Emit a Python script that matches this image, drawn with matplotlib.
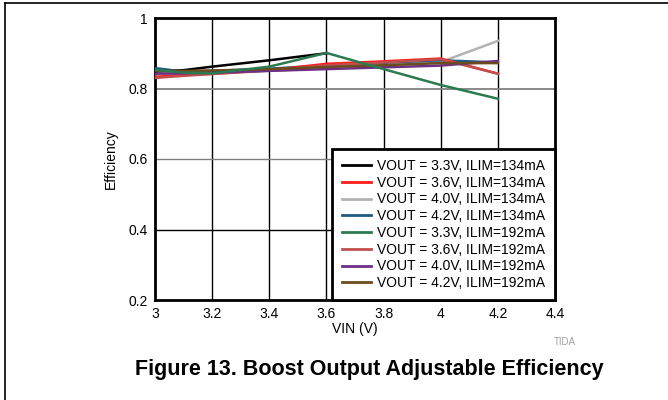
import matplotlib.pyplot as plt
from matplotlib.lines import Line2D

plt.rcParams['font.family'] = ['Liberation Sans', 'DejaVu Sans']

# VIN points (V)
vin = [3.0, 3.1, 3.2, 3.4, 3.6, 3.8, 4.0, 4.2]

# efficiency per series (None where the curve is not drawn)
eff_33_134 = [0.848, 0.852, 0.862, 0.880, 0.900, None, None, None]
eff_36_134 = [0.833, 0.838, 0.842, 0.852, 0.870, 0.877, 0.885, 0.842]
eff_40_134 = [0.840, 0.842, 0.845, 0.850, 0.858, 0.866, 0.875, 0.935]
eff_42_134 = [0.858, 0.848, 0.850, 0.856, 0.866, 0.873, 0.880, 0.874]
eff_33_192 = [0.853, 0.845, 0.843, 0.862, 0.901, 0.855, 0.810, 0.771]
eff_36_192 = [0.830, 0.836, 0.841, 0.851, 0.866, 0.874, 0.883, 0.842]
eff_40_192 = [0.842, 0.843, 0.845, 0.850, 0.855, 0.860, 0.865, 0.878]
eff_42_192 = [0.850, 0.850, 0.851, 0.855, 0.861, 0.866, 0.872, 0.872]

labels = [
    'VOUT = 3.3V, ILIM=134mA', 'VOUT = 3.6V, ILIM=134mA',
    'VOUT = 4.0V, ILIM=134mA', 'VOUT = 4.2V, ILIM=134mA',
    'VOUT = 3.3V, ILIM=192mA', 'VOUT = 3.6V, ILIM=192mA',
    'VOUT = 4.0V, ILIM=192mA', 'VOUT = 4.2V, ILIM=192mA',
]
series = [eff_33_134, eff_36_134, eff_40_134, eff_42_134,
          eff_33_192, eff_36_192, eff_40_192, eff_42_192]
colors = ['#000000', '#ff1a1a', '#b3b3b3', '#1f5a80',
          '#2b7a52', '#c0504d', '#6e2f86', '#6b4c1f']

fig = plt.figure(figsize=(6.68, 4.0), dpi=100)
ax = fig.add_axes([155 / 668, 1 - 300 / 400, 400 / 668, 282 / 400])

# grid (drawn by hand to get the mixed grey / black lines)
for xv in [3.2, 3.4, 3.6, 3.8, 4.0, 4.2]:
    ax.axvline(xv, color='black', lw=1.0, zorder=1)
ax.axhline(0.8, color='#808080', lw=1.3, zorder=1)
ax.axhline(0.6, color='#808080', lw=1.0, zorder=1)
ax.axhline(0.4, color='black', lw=1.0, zorder=1)

order = [0, 2, 3, 1, 5, 6, 7, 4]
for i in order:
    xs = [x for x, y in zip(vin, series[i]) if y is not None]
    ys = [y for y in series[i] if y is not None]
    ax.plot(xs, ys, color=colors[i], lw=1.8, zorder=3)

ax.set_xlim(3, 4.4)
ax.set_ylim(0.2, 1.0)
ax.set_xticks([3, 3.2, 3.4, 3.6, 3.8, 4, 4.2, 4.4])
ax.set_xticklabels(['3', '3.2', '3.4', '3.6', '3.8', '4', '4.2', '4.4'])
ax.set_yticks([0.2, 0.4, 0.6, 0.8, 1.0])
ax.set_yticklabels(['0.2', '0.4', '0.6', '0.8', '1'])
ax.tick_params(length=0, labelsize=10, pad=5)
for s in ax.spines.values():
    s.set_linewidth(2.0)
ax.set_xlabel('VIN (V)', fontsize=10, labelpad=1)
ax.set_ylabel('Efficiency', fontsize=10, labelpad=8)

handles = [Line2D([], [], color=c, lw=2) for c in colors]
leg = ax.legend(handles, labels, loc='lower right', fontsize=10,
                frameon=True, fancybox=False, borderaxespad=0,
                framealpha=1, facecolor='white',
                handlelength=2.1, handletextpad=0.45, labelspacing=0.2,
                borderpad=0.7)
leg.get_frame().set_edgecolor('black')
leg.get_frame().set_linewidth(2.0)
leg.set_zorder(5)

fig.text(565 / 668, 1 - 342 / 400, 'TIDA', fontsize=7, color='#a0a0a0',
         ha='center', va='center')
fig.text(369 / 668, 1 - 370 / 400, 'Figure 13. Boost Output Adjustable Efficiency',
         fontsize=15.5, fontweight='bold', ha='center', va='center')

# page frame (top and left edges)
fig.add_artist(Line2D([5 / 668, 1], [1 - 3 / 400, 1 - 3 / 400], color='black', lw=1.2))
fig.add_artist(Line2D([5 / 668, 5 / 668], [0, 1 - 3 / 400], color='black', lw=1.2))

fig.savefig('out.png', dpi=100)
